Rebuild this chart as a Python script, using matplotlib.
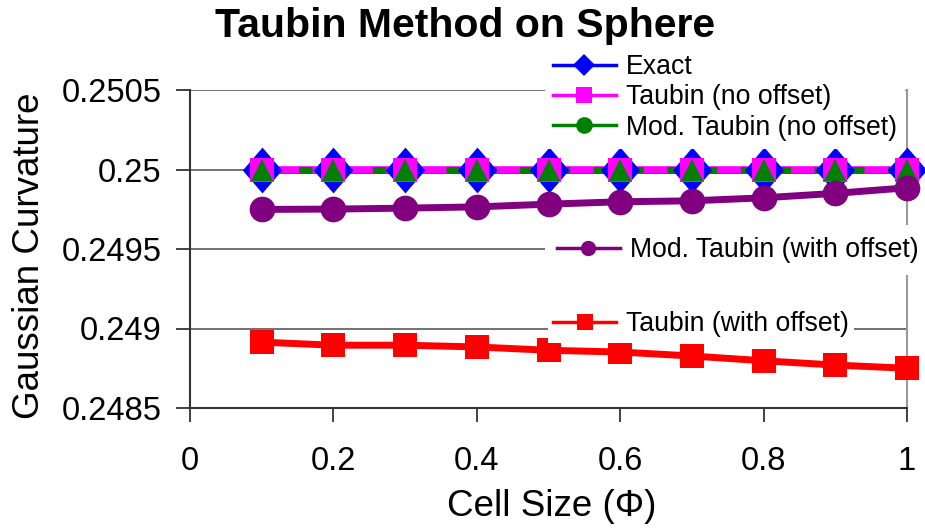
import matplotlib
matplotlib.use("Agg")
import matplotlib.pyplot as plt
from matplotlib.lines import Line2D
from matplotlib.path import Path

plt.rcParams['font.family'] = ['Liberation Sans', 'DejaVu Sans']
plt.rcParams['lines.scale_dashes'] = False

# data
cell_size = [0.1, 0.2, 0.3, 0.4, 0.5, 0.6, 0.7, 0.8, 0.9, 1.0]
exact = [0.25] * 10
taubin_no_offset = [0.25] * 10
mod_taubin_no_offset = [0.25] * 10
mod_taubin_offset = [0.249749, 0.249751, 0.249757, 0.249765, 0.249782,
                     0.249797, 0.249803, 0.249822, 0.249850, 0.249885]
taubin_offset = [0.248914, 0.248895, 0.248895, 0.248884, 0.248863,
                 0.248852, 0.248827, 0.248797, 0.248770, 0.248750]

x_ticks = [0, 0.2, 0.4, 0.6, 0.8, 1]
x_labels = ['0', '0.2', '0.4', '0.6', '0.8', '1']
y_ticks = [0.2485, 0.249, 0.2495, 0.25, 0.2505]
y_labels = ['0.2485', '0.249', '0.2495', '0.25', '0.2505']

W, H = 925, 531
fig = plt.figure(figsize=(W / 100, H / 100), dpi=100)
ax = fig.add_axes([190 / W, 1 - 408 / H, (907 - 190) / W, (408 - 90) / H])

diamond = Path([(0, 1), (0.86, 0), (0, -1), (-0.86, 0), (0, 1)],
               [Path.MOVETO, Path.LINETO, Path.LINETO, Path.LINETO, Path.CLOSEPOLY])

# lines first (Excel draws markers on top of all lines)
ax.plot(cell_size, exact, color='#0000FF', lw=5, zorder=2, clip_on=False)
ax.plot(cell_size, taubin_no_offset, color='#FF00FF', lw=5.5, zorder=2.1, clip_on=False)
ax.plot(cell_size, mod_taubin_no_offset, color='#008000', lw=5, zorder=2.2,
        linestyle=(0, (9.5, 17)), clip_on=False)
ax.plot(cell_size, mod_taubin_offset, color='#800080', lw=5, zorder=2.3, clip_on=False)
ax.plot(cell_size, taubin_offset, color='#FF0000', lw=5, zorder=2.4, clip_on=False)

ax.plot(cell_size, exact, ls='none', marker=diamond, ms=33, mfc='#0000FF', mec='#0000FF',
        mew=0, zorder=3, clip_on=False)
ax.plot(cell_size, taubin_no_offset, ls='none', marker='s', ms=17.5, mfc='#FF00FF',
        mec='#FF00FF', mew=0, zorder=3.1, clip_on=False)
ax.plot(cell_size, mod_taubin_no_offset, ls='none', marker='^', ms=16, mfc='#008000',
        mec='#008000', mew=0, zorder=3.2, clip_on=False)
ax.plot(cell_size, mod_taubin_offset, ls='none', marker='o', ms=18.5, mfc='#800080',
        mec='#800080', mew=0, zorder=3.3, clip_on=False)
ax.plot(cell_size, taubin_offset, ls='none', marker='s', ms=17, mfc='#FF0000',
        mec='#FF0000', mew=0, zorder=3.4, clip_on=False)

ax.set_xlim(0, 1)
ax.set_ylim(0.2485, 0.2505)
ax.set_xticks(x_ticks)
ax.set_xticklabels(x_labels)
ax.set_yticks(y_ticks)
ax.set_yticklabels(y_labels)
ax.tick_params(axis='both', labelsize=23.5, length=10, width=1.3, color='#333333', direction='out')
ax.tick_params(axis='x', pad=17)
ax.tick_params(axis='y', pad=10.5)
ax.yaxis.grid(True, color='#666666', lw=1.3)
ax.set_axisbelow(True)
ax.spines['top'].set_visible(False)
for s in ['left', 'bottom']:
    ax.spines[s].set_color('#333333')
    ax.spines[s].set_linewidth(1.5)
ax.spines['right'].set_color('#999999')
ax.spines['right'].set_linewidth(1.5)

fig.text(465 / W, 1 - 26 / H, 'Taubin Method on Sphere', fontsize=29.5, fontweight='bold',
         ha='center', va='center')
fig.text(30 / W, 1 - 256 / H, 'Gaussian Curvature', fontsize=26.5, rotation=90,
         ha='center', va='center')
fig.text(552 / W, 1 - 506 / H, 'Cell Size (\u03a6)', fontsize=26.5, ha='center', va='center')

# legend handles
h_exact = Line2D([], [], color='#0000FF', lw=2.5, marker='D', ms=11, mew=0)
h_taubin = Line2D([], [], color='#FF00FF', lw=2.5, marker='s', ms=12, mew=0)
h_mod = Line2D([], [], color='#008000', lw=2.5, marker='o', ms=12, mew=0)
h_mod_off = Line2D([], [], color='#800080', lw=2.5, marker='o', ms=11, mew=0)
h_taubin_off = Line2D([], [], color='#FF0000', lw=2.5, marker='s', ms=11.5, mew=0)

leg_kw = dict(fontsize=19.2, frameon=True, facecolor='white', edgecolor='none', framealpha=1,
              fancybox=False, borderaxespad=0, handlelength=2.35, handletextpad=0.38,
              labelspacing=0.16, bbox_transform=fig.transFigure, loc='upper left')

leg1 = ax.legend([h_exact, h_taubin, h_mod],
                 ['Exact', 'Taubin (no offset)', 'Mod. Taubin (no offset)'],
                 bbox_to_anchor=(545 / W, 1 - 46 / H), borderpad=0.3, **leg_kw)
ax.add_artist(leg1)
leg2 = ax.legend([h_mod_off], ['Mod. Taubin (with offset)'],
                 bbox_to_anchor=(545 / W, 1 - 225 / H), borderpad=0.45, **leg_kw)
ax.add_artist(leg2)
leg3 = ax.legend([h_taubin_off], ['Taubin (with offset)'],
                 bbox_to_anchor=(548 / W, 1 - 306 / H), borderpad=0.2, **leg_kw)

fig.savefig('out.png', dpi=100)
